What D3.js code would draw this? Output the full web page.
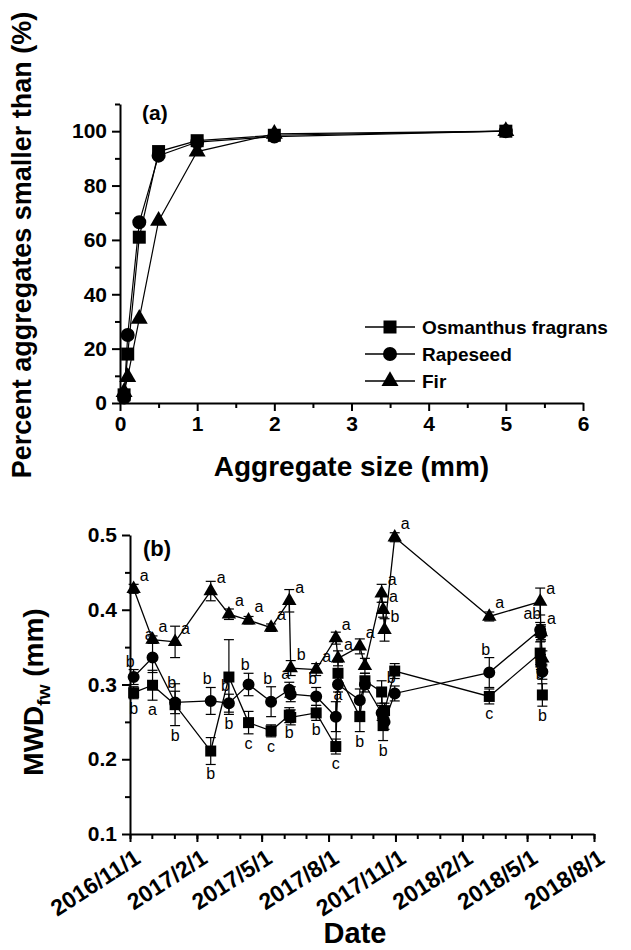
<!DOCTYPE html>
<html>
<head>
<meta charset="utf-8">
<style>
    body { margin: 0; background: #fff; }
    svg { font-family: 'Liberation Sans', Arial, sans-serif; }
    .axis path, .axis line { stroke: #000; stroke-width: 2; }
    .axis text { font-size: 21px; font-weight: bold; fill: #000; }
    .title { font-weight: bold; fill: #000; }
    .letter { font-size: 16px; fill: #000; }
</style>
</head>
<body>
<svg width="631" height="950"></svg>

<script src="https://d3js.org/d3.v7.min.js"></script>
<script>

// ---- panel (a) data: cumulative aggregate size distribution ----
let sizes = [0.053, 0.1, 0.25, 0.5, 1, 2, 5]
let osmanthusCum = [3, 18, 61, 92.5, 96.5, 98.5, 100]
let rapeseedCum = [2, 25, 66.5, 91, 96, 98, 100]
let firCum = [4, 9.5, 31, 67, 92.5, 99, 100]

// ---- panel (b) data: MWD over time ----
let sampleDates = ["2016-11-06", "2016-12-02", "2017-01-02", "2017-02-20", "2017-03-17", "2017-04-13",
    "2017-05-14", "2017-06-08", "2017-06-10", "2017-07-15", "2017-08-11", "2017-08-14", "2017-09-13",
    "2017-09-20", "2017-10-13", "2017-10-15", "2017-10-17", "2017-10-31", "2018-03-10", "2018-05-19",
    "2018-05-20", "2018-05-22"]

let osmanthusMWD = [0.289, 0.299, 0.273, 0.211, 0.310, 0.249, 0.238, 0.259, 0.256, 0.262, 0.217, 0.315,
    0.257, 0.305, 0.290, 0.245, 0.265, 0.318, 0.284, 0.342, 0.330, 0.286]
let osmanthusErr = [0.008, 0.02, 0.028, 0.018, 0.05, 0.015, 0.008, 0.01, 0.01, 0.01, 0.01, 0.015,
    0.02, 0.01, 0.015, 0.02, 0.01, 0.01, 0.01, 0.015, 0.01, 0.015]
let osmanthusLetters = ["b", "a", "b", "b", "b", "c", "c", "b", "", "b", "c", "a",
    "b", "", "", "b", "", "", "c", "b", "", "b"]

let rapeseedMWD = [0.310, 0.336, 0.276, 0.278, 0.275, 0.300, 0.277, 0.293, 0.287, 0.284, 0.257, 0.300,
    0.279, 0.300, 0.262, 0.255, 0.250, 0.288, 0.316, 0.373, 0.368, 0.317]
let rapeseedErr = [0.01, 0.02, 0.015, 0.018, 0.012, 0.015, 0.02, 0.01, 0.01, 0.012, 0.02, 0.01,
    0.015, 0.01, 0.01, 0.01, 0.01, 0.01, 0.02, 0.01, 0.01, 0.01]
let rapeseedLetters = ["b", "a", "b", "b", "b", "b", "b", "a", "", "b", "", "",
    "", "", "", "", "", "b", "b", "ab", "", "b"]

let firMWD = [0.428, 0.360, 0.357, 0.425, 0.394, 0.386, 0.376, 0.412, 0.322, 0.320, 0.362, 0.335,
    0.351, 0.325, 0.422, 0.400, 0.373, 0.497, 0.391, 0.411, 0.370, 0.335]
let firErr = [0.006, 0.005, 0.021, 0.013, 0.007, 0.005, 0.005, 0.015, 0.01, 0.008, 0.008, 0.01,
    0.01, 0.01, 0.012, 0.01, 0.015, 0.006, 0.006, 0.018, 0.01, 0.01]
let firLetters = ["a", "a", "a", "a", "a", "a", "a", "a", "b", "a", "a", "a",
    "a", "", "a", "a", "b", "a", "a", "a", "a", ""]

let seriesNames = ["Osmanthus fragrans", "Rapeseed", "Fir"]
let dateTicks = ["2016-11-01", "2017-02-01", "2017-05-01", "2017-08-01", "2017-11-01",
    "2018-02-01", "2018-05-01", "2018-08-01"]

let svg = d3.select("svg")
let parse = d3.timeParse("%Y-%m-%d")
let shapes = [d3.symbolSquare, d3.symbolCircle, d3.symbolTriangle]

// ================= panel (a) =================
let xa = d3.scaleLinear().domain([0, 6]).range([120, 583])
let ya = d3.scaleLinear().domain([0, 110]).range([403, 104])

let ga = svg.append("g")

ga.append("g").attr("class", "axis")
    .attr("transform", "translate(0,403)")
    .call(d3.axisBottom(xa).tickValues(d3.range(0, 6.5, 1)).tickSize(8).tickSizeOuter(0).tickPadding(5).tickFormat(d3.format("d")))
ga.append("g").attr("class", "axis")
    .attr("transform", "translate(0,403)")
    .call(d3.axisBottom(xa).tickValues(d3.range(0.5, 6, 1)).tickSize(5).tickFormat(""))
    .select(".domain").remove()

ga.append("g").attr("class", "axis")
    .attr("transform", "translate(120,0)")
    .call(d3.axisLeft(ya).tickValues(d3.range(0, 101, 20)).tickSize(8).tickSizeOuter(0).tickPadding(5))
ga.append("g").attr("class", "axis")
    .attr("transform", "translate(120,0)")
    .call(d3.axisLeft(ya).tickValues(d3.range(10, 111, 20)).tickSize(5).tickFormat(""))
    .select(".domain").remove()

let cumSeries = [osmanthusCum, rapeseedCum, firCum]
let sizeA = [169, 154, 125]
let lineA = d3.line().x((d, i) => xa(sizes[i])).y(d => ya(d))

cumSeries.forEach(function (vals, s) {
    ga.append("path")
        .attr("d", lineA(vals))
        .style("fill", "none")
        .style("stroke", "#000")
        .style("stroke-width", 1.2)
})
cumSeries.forEach(function (vals, s) {
    ga.selectAll(".pa" + s)
        .data(vals)
        .join("path")
        .attr("transform", (d, i) => "translate(" + xa(sizes[i]) + "," + ya(d) + ")")
        .attr("d", d3.symbol().type(shapes[s]).size(sizeA[s]))
        .style("fill", "#000")
})

ga.append("text").attr("class", "title")
    .attr("x", 142).attr("y", 120)
    .style("font-size", "21px")
    .text("(a)")

ga.append("text").attr("class", "title")
    .attr("x", xa(3)).attr("y", 476)
    .attr("text-anchor", "middle")
    .style("font-size", "28px")
    .text("Aggregate size (mm)")

ga.append("text").attr("class", "title")
    .attr("transform", "translate(31,245) rotate(-90)")
    .attr("text-anchor", "middle")
    .style("font-size", "27px")
    .text("Percent aggregates smaller than (%)")

// legend
let legend = ga.selectAll(".legend")
    .data(seriesNames)
    .join("g")
    .attr("transform", (d, i) => "translate(365," + (327 + i * 27) + ")")
legend.append("line")
    .attr("x1", 0).attr("x2", 50)
    .style("stroke", "#000").style("stroke-width", 1.5)
legend.append("path")
    .attr("transform", "translate(25,0)")
    .attr("d", (d, i) => d3.symbol().type(shapes[i]).size(sizeA[i])())
    .style("fill", "#000")
legend.append("text").attr("class", "title")
    .attr("x", 57).attr("dy", "0.36em")
    .style("font-size", "19px")
    .text(d => d)

// ================= panel (b) =================
let xb = d3.scaleTime().domain([parse("2016-11-01"), parse("2018-08-01")]).range([130, 594])
let yb = d3.scaleLinear().domain([0.1, 0.5]).range([834, 535])

let gb = svg.append("g")

gb.append("g").attr("class", "axis")
    .attr("transform", "translate(0,834)")
    .call(d3.axisBottom(xb).tickValues(dateTicks.map(parse)).tickSize(8).tickSizeOuter(0).tickFormat(""))
gb.append("g").attr("class", "axis")
    .attr("transform", "translate(0,834)")
    .call(d3.axisBottom(xb).tickValues(d3.timeMonth.range(parse("2016-11-01"), parse("2018-08-02"))).tickSize(5).tickFormat(""))
    .select(".domain").remove()

let fmt = d3.timeFormat("%Y/%-m/%-d")
gb.selectAll(".dlabel")
    .data(dateTicks)
    .join("text")
    .attr("class", "title")
    .attr("transform", d => "translate(" + (xb(parse(d)) + 3) + ",848) rotate(-33)")
    .attr("text-anchor", "end")
    .attr("dy", "0.72em")
    .style("font-size", "23px")
    .text(d => fmt(parse(d)))

gb.append("g").attr("class", "axis")
    .attr("transform", "translate(130,0)")
    .call(d3.axisLeft(yb).tickValues([0.1, 0.2, 0.3, 0.4, 0.5]).tickSize(8).tickSizeOuter(0).tickPadding(5).tickFormat(d3.format(".1f")))
gb.append("g").attr("class", "axis")
    .attr("transform", "translate(130,0)")
    .call(d3.axisLeft(yb).tickValues([0.15, 0.25, 0.35, 0.45]).tickSize(5).tickFormat(""))
    .select(".domain").remove()

gb.append("text").attr("class", "title")
    .attr("x", 143).attr("y", 556)
    .style("font-size", "22px")
    .text("(b)")

gb.append("text").attr("class", "title")
    .attr("x", 355).attr("y", 943)
    .attr("text-anchor", "middle")
    .style("font-size", "29px")
    .text("Date")

let ylab = gb.append("text").attr("class", "title")
    .attr("transform", "translate(43,692) rotate(-90)")
    .attr("text-anchor", "middle")
    .style("font-size", "28px")
ylab.append("tspan").text("MWD")
ylab.append("tspan").style("font-size", "19px").attr("dy", "7").text("fw")
ylab.append("tspan").attr("dy", "-7").text(" (mm)")

let mwd = [osmanthusMWD, rapeseedMWD, firMWD]
let errs = [osmanthusErr, rapeseedErr, firErr]
let letters = [osmanthusLetters, rapeseedLetters, firLetters]
let sizeB = [121, 113, 90]
let dates = sampleDates.map(parse)
let lineB = d3.line().x((d, i) => xb(dates[i])).y(d => yb(d))

mwd.forEach(function (vals, s) {
    gb.append("path")
        .attr("d", lineB(vals))
        .style("fill", "none")
        .style("stroke", "#000")
        .style("stroke-width", 1.3)
})

mwd.forEach(function (vals, s) {
    let eb = gb.selectAll(".eb" + s)
        .data(vals)
        .join("g")
        .attr("transform", (d, i) => "translate(" + xb(dates[i]) + ",0)")
    eb.append("line")
        .attr("y1", (d, i) => yb(d - errs[s][i]))
        .attr("y2", (d, i) => yb(d + errs[s][i]))
        .style("stroke", "#000").style("stroke-width", 1.2)
    eb.append("line")
        .attr("x1", -5).attr("x2", 5)
        .attr("y1", (d, i) => yb(d + errs[s][i]))
        .attr("y2", (d, i) => yb(d + errs[s][i]))
        .style("stroke", "#000").style("stroke-width", 1.2)
    eb.append("line")
        .attr("x1", -5).attr("x2", 5)
        .attr("y1", (d, i) => yb(d - errs[s][i]))
        .attr("y2", (d, i) => yb(d - errs[s][i]))
        .style("stroke", "#000").style("stroke-width", 1.2)
})

mwd.forEach(function (vals, s) {
    gb.selectAll(".pb" + s)
        .data(vals)
        .join("path")
        .attr("transform", (d, i) => "translate(" + xb(dates[i]) + "," + yb(d) + ")")
        .attr("d", d3.symbol().type(shapes[s]).size(sizeB[s]))
        .style("fill", "#000")
})

// significance letters: Osmanthus below, Rapeseed upper left, Fir upper right
mwd.forEach(function (vals, s) {
    gb.selectAll(".lt" + s)
        .data(vals)
        .join("text")
        .attr("class", "letter")
        .attr("x", (d, i) => xb(dates[i]) + (s == 2 ? 6 : s == 1 ? 1 : 0))
        .attr("y", function (d, i) {
            if (s == 0) return yb(d - errs[s][i]) + 15
            if (s == 1) return yb(d + errs[s][i]) - 3
            return yb(d) - 8
        })
        .attr("text-anchor", s == 2 ? "start" : s == 1 ? "end" : "middle")
        .text((d, i) => letters[s][i])
})

</script>
</body>
</html>
